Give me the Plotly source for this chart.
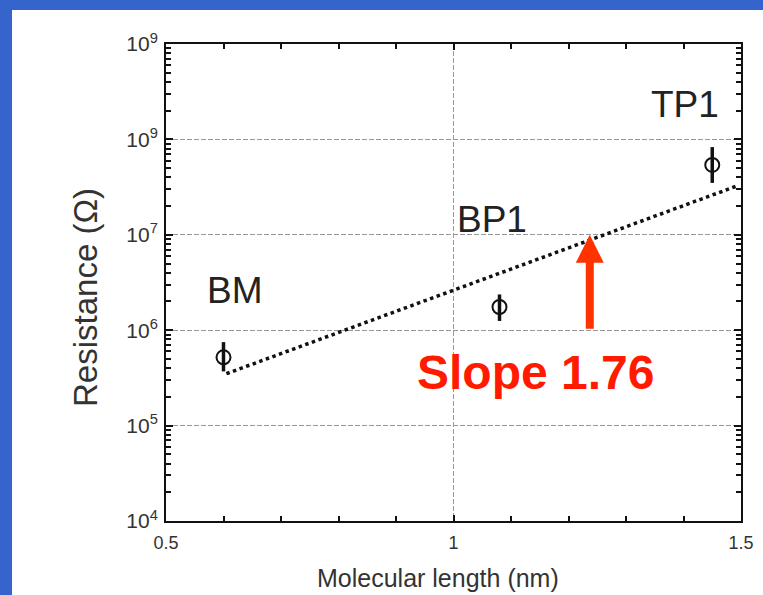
import plotly.graph_objects as go
import math

# ---- data ----
molecules = ["BM", "BP1", "TP1"]
length_nm = [0.60, 1.08, 1.45]
resistance = [5.2e5, 1.75e6, 5.4e7]
err_plus = [2.3e5, 0.62e6, 2.9e7]
err_minus = [1.5e5, 0.5e6, 1.9e7]

fit_x = [0.605, 1.496]
fit_y = [3.5e5, 3.3e7]

label_x = [0.62, 1.067, 1.403]
label_y = [2.6e6, 1.43e7, 2.3e8]

slope_text = "Slope 1.76"
slope_pos = (1.142, 3.6e5)
arrow_x = 1.237
arrow_from = 1.0e6
arrow_to = 1.0e7

ytick_vals = [1e4, 1e5, 1e6, 1e7, 1e8, 1e9]
ytick_text = ["10<sup>4</sup>", "10<sup>5</sup>", "10<sup>6</sup>", "10<sup>7</sup>",
              "10<sup>9</sup>", "10<sup>9</sup>"]
xtick_vals = [0.5, 1.0, 1.5]
xtick_text = ["0.5", "1", "1.5"]

W, H = 763, 595
L, R, T, B = 166, 22, 44, 74
pw, ph = W - L - R, H - T - B

fig = go.Figure()

fig.add_trace(go.Scatter(
    x=fit_x, y=fit_y, mode="lines",
    line=dict(color="#111", width=3.5, dash="dot"),
    hoverinfo="skip", showlegend=False))

fig.add_trace(go.Scatter(
    x=length_nm, y=resistance, mode="markers",
    marker=dict(symbol="circle-open", size=14, color="#111", line=dict(width=2, color="#111")),
    error_y=dict(type="data", symmetric=False, array=err_plus, arrayminus=err_minus,
                 thickness=3.5, width=0, color="#111"),
    showlegend=False))

annotations = []
for name, lx, ly in zip(molecules, label_x, label_y):
    annotations.append(dict(x=lx, y=math.log10(ly), xref="x", yref="y", text=name,
                            showarrow=False, font=dict(family="Liberation Sans, Arial", size=37, color="#222")))

annotations.append(dict(x=slope_pos[0], y=math.log10(slope_pos[1]), xref="x", yref="y",
                        text="<b>" + slope_text + "</b>", showarrow=False,
                        font=dict(family="Liberation Sans, Arial", size=48, color="#FF1A00")))

annotations.append(dict(x=arrow_x, y=math.log10(arrow_to), xref="x", yref="y",
                        ax=arrow_x, ay=math.log10(arrow_from), axref="x", ayref="y",
                        text="", showarrow=True, arrowhead=2, arrowsize=0.7, arrowwidth=8,
                        arrowcolor="#FF3300", standoff=0, startstandoff=0))

annotations.append(dict(x=(438 - L) / pw, y=(H - B - 578) / ph, xref="paper", yref="paper",
                        xanchor="center", yanchor="middle",
                        text="Molecular length (nm)", showarrow=False,
                        font=dict(family="Liberation Sans, Arial", size=25, color="#333")))
annotations.append(dict(x=(85 - L) / pw, y=(H - B - 298) / ph, xref="paper", yref="paper",
                        xanchor="center", yanchor="middle",
                        text="Resistance (Ω)", showarrow=False, textangle=-90,
                        font=dict(family="Liberation Sans, Arial", size=33, color="#333")))

shapes = [dict(type="rect", xref="paper", yref="paper", layer="below",
               x0=(12 - L) / pw, x1=(W - L + 5) / pw, y0=(H - B - H - 5) / ph, y1=(H - B - 10) / ph,
               fillcolor="white", line=dict(width=0))]

minor_y = [m * 10 ** e for e in range(4, 9) for m in range(2, 10)]

fig.update_layout(
    width=W, height=H, margin=dict(l=L, r=R, t=T, b=B, autoexpand=False),
    paper_bgcolor="#3464CC", plot_bgcolor="white",
    annotations=annotations, shapes=shapes,
    xaxis=dict(range=[0.5, 1.5], tickmode="array", tickvals=xtick_vals, ticktext=xtick_text,
               showline=True, linecolor="#111", linewidth=2, mirror="allticks",
               ticks="inside", ticklen=6, tickwidth=1.5, tickcolor="#111",
               showgrid=True, gridcolor="#999", gridwidth=1, griddash="5px,2px",
               minor=dict(dtick=0.1, tick0=0.5, ticks="inside", ticklen=5, tickcolor="#111", showgrid=False),
               zeroline=False, automargin=False),
    yaxis=dict(type="log", range=[4, 9], tickmode="array", tickvals=ytick_vals, ticktext=ytick_text,
               showline=True, linecolor="#111", linewidth=2, mirror="allticks",
               ticks="inside", ticklen=7, tickwidth=1.5, tickcolor="#111",
               showgrid=True, gridcolor="#999", gridwidth=1, griddash="5px,2px",
               minor=dict(tickmode="array", tickvals=minor_y, ticks="inside", ticklen=5,
                          tickcolor="#111", showgrid=False),
               zeroline=False, automargin=False),
)
fig.update_xaxes(tickfont=dict(family="Liberation Sans", size=18, color="#333"), ticklabelstandoff=4)
fig.update_yaxes(tickfont=dict(family="Liberation Sans", size=21, color="#333"), ticklabelstandoff=2)

fig.write_html("out.html")
